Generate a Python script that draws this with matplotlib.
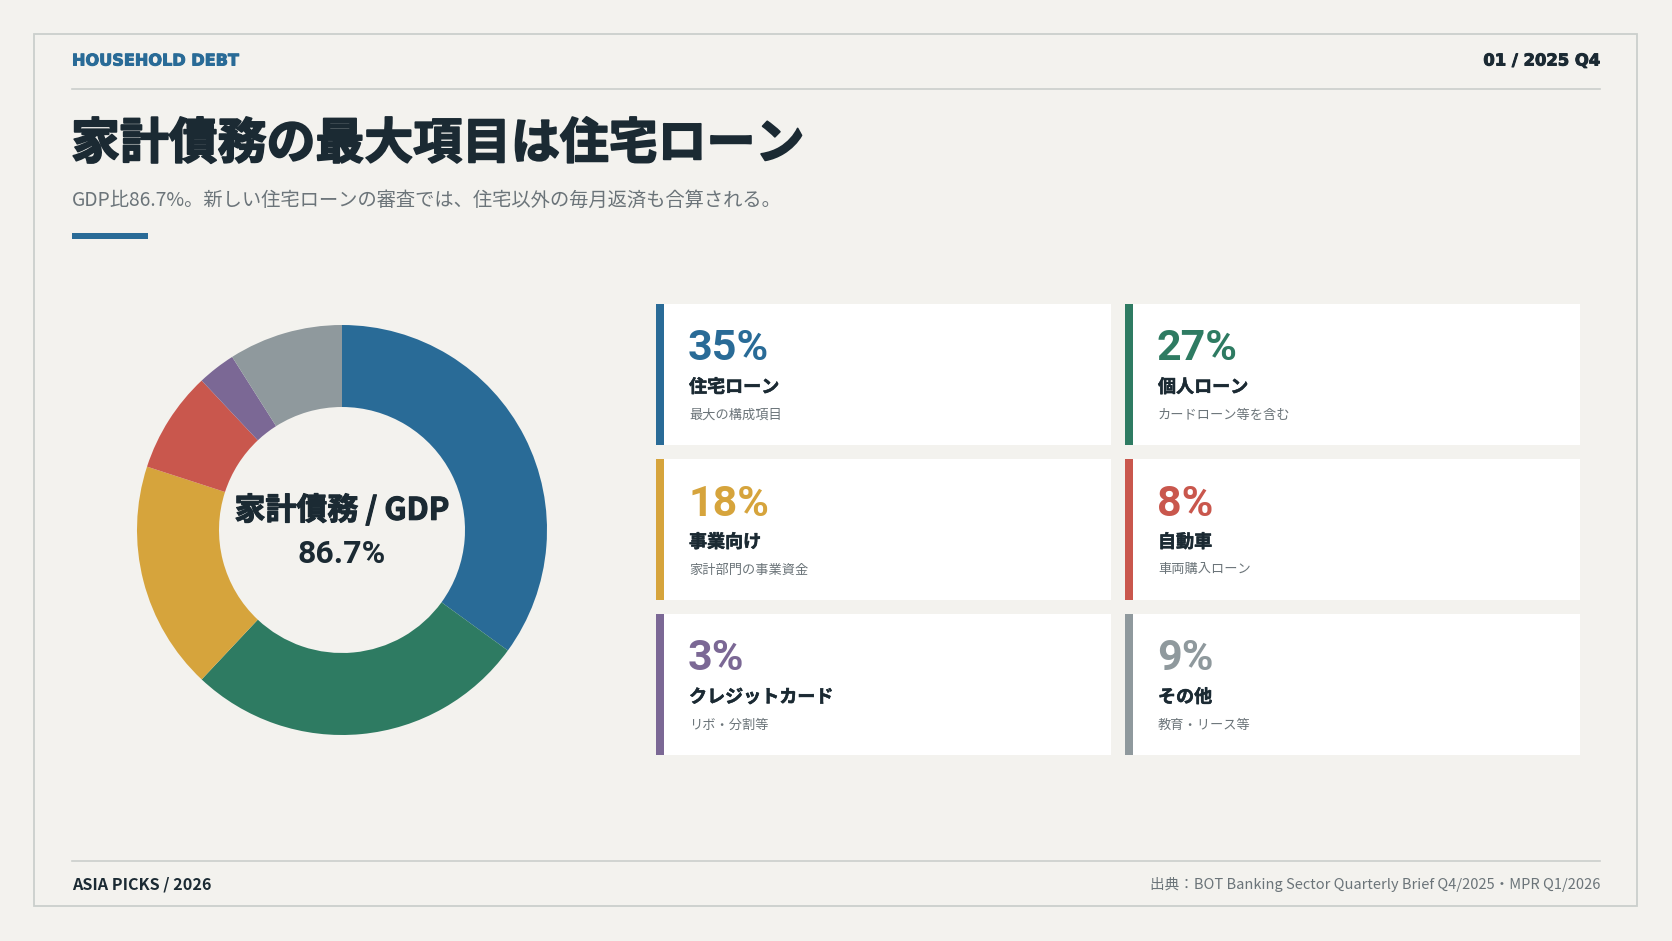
import matplotlib
matplotlib.use('Agg')
import matplotlib.pyplot as plt
import matplotlib.patheffects as pe
from matplotlib.patches import Rectangle

# Data
categories = ['住宅ローン', '個人ローン', '事業向け', '自動車', 'クレジットカード', 'その他']
shares = [35, 27, 18, 8, 3, 9]
notes = ['最大の構成項目', 'カードローン等を含む', '家計部門の事業資金', '車両購入ローン', 'リボ・分割等', '教育・リース等']
colors = ['#296b97', '#2e7b62', '#d6a43c', '#c9574d', '#7b6895', '#8f999d']
debt_to_gdp = 86.7

BG = '#f3f2ee'
DARK = '#1b2a33'
GRAY = '#6b7479'
LINE = '#cbcfcc'
JP = ['Noto Sans CJK JP', 'DejaVu Sans']
NUM = ['Roboto', 'Liberation Sans', 'DejaVu Sans']
LAT = ['DejaVu Sans']


def thick(color, lw):
    # fake a heavier weight than the installed bold
    return [pe.withStroke(linewidth=lw, foreground=color)]


W, H = 1672, 941
fig = plt.figure(figsize=(W / 100, H / 100), dpi=100, facecolor=BG)

# pixel-space canvas
ax = fig.add_axes([0, 0, 1, 1])
ax.set_xlim(0, W)
ax.set_ylim(H, 0)
ax.axis('off')
ax.set_facecolor(BG)

# frame
ax.add_patch(Rectangle((34, 34), 1603, 872, fill=False, edgecolor=LINE, lw=1.3))

# header
ax.text(72, 61, 'HOUSEHOLD DEBT', family=LAT, weight='bold', fontsize=11.6,
        color=colors[0], va='center', ha='left', path_effects=thick(colors[0], 0.7))
ax.text(1600, 61, '01 / 2025 Q4', family=LAT, weight='bold', fontsize=11.8,
        color=DARK, va='center', ha='right', path_effects=thick(DARK, 0.7))
ax.plot([72, 1600], [89, 89], color=LINE, lw=1.2)

# title + subtitle
ax.text(71, 144, '家計債務の最大項目は住宅ローン', family=JP, weight='bold', fontsize=35.2,
        color=DARK, va='center', ha='left', path_effects=thick(DARK, 1.3))
ax.text(72, 200, 'GDP比86.7%。新しい住宅ローンの審査では、住宅以外の毎月返済も合算される。',
        family=JP, fontsize=13.9, color=GRAY, va='center', ha='left')
ax.add_patch(Rectangle((72, 233), 76, 6, color=colors[0], lw=0))

# cards
col_x = [656, 1125]
row_y = [304, 459, 614]
card_w, card_h = 455, 141
for i, (cat, share, note, c) in enumerate(zip(categories, shares, notes, colors)):
    x0 = col_x[i % 2]
    y0 = row_y[i // 2]
    ax.add_patch(Rectangle((x0, y0), card_w, card_h, color='white', lw=0))
    ax.add_patch(Rectangle((x0, y0), 8, card_h, color=c, lw=0))
    ax.text(x0 + 32, y0 + 45, f'{share}%', family=NUM, weight='bold', fontsize=31,
            color=c, va='center', ha='left')
    ax.text(x0 + 33, y0 + 83, cat, family=JP, weight='bold', fontsize=13,
            color=DARK, va='center', ha='left', path_effects=thick(DARK, 0.4))
    ax.text(x0 + 33, y0 + 111, note, family=JP, fontsize=9.5,
            color=GRAY, va='center', ha='left')

# footer
ax.plot([72, 1600], [861, 861], color=LINE, lw=1.2)
ax.text(72, 885, 'ASIA PICKS / 2026', family=JP, weight='bold', fontsize=11.6,
        color=DARK, va='center', ha='left')
ax.text(1600, 885, '出典：BOT Banking Sector Quarterly Brief Q4/2025・MPR Q1/2026',
        family=JP, fontsize=10.5, color=GRAY, va='center', ha='right')

# donut
cx, cy, r = 342, 530, 205
dax = fig.add_axes([(cx - r) / W, 1 - (cy + r) / H, 2 * r / W, 2 * r / H])
dax.pie(shares, colors=colors, startangle=90, counterclock=False, radius=1,
        wedgeprops=dict(width=0.4, linewidth=0))
dax.set_xlim(-1, 1)
dax.set_ylim(-1, 1)
dax.set_aspect('equal')
dax.axis('off')
dax.text(0, 0.095, '家計債務 / GDP', family=JP, weight='bold', fontsize=22.3,
         color=DARK, ha='center', va='center', path_effects=thick(DARK, 0.8))
dax.text(0, -0.115, f'{debt_to_gdp}%', family=NUM, weight='bold', fontsize=23,
         color=DARK, ha='center', va='center')

fig.savefig('out.png', dpi=100, facecolor=BG)
